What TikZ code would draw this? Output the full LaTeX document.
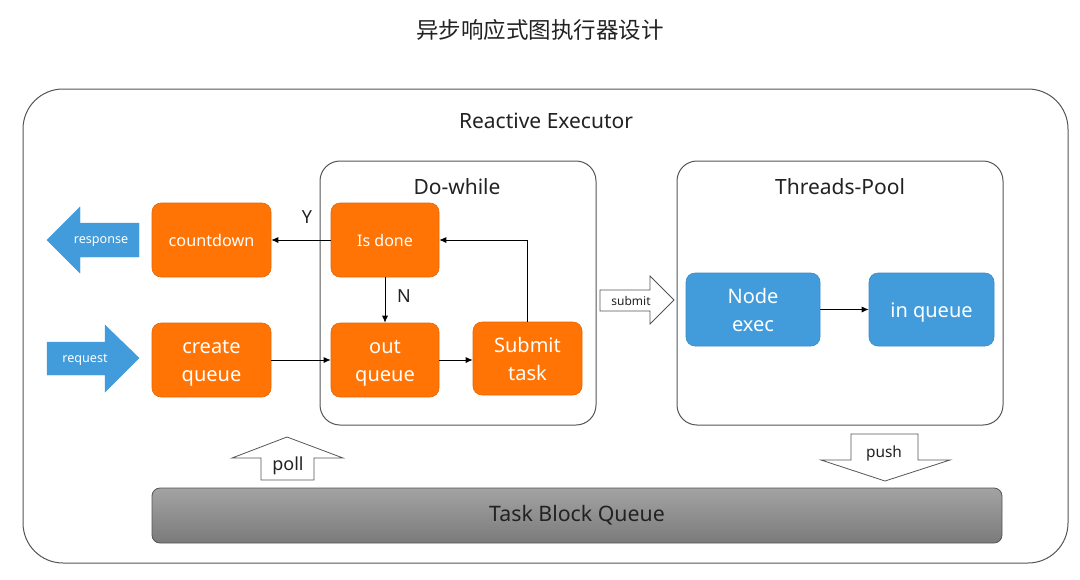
\documentclass[tikz,border=0pt]{standalone}
\usepackage{fontspec}
\setmainfont{Noto Sans}
\newfontfamily\cjk{Noto Sans CJK SC}
\usetikzlibrary{arrows.meta}
\definecolor{org}{HTML}{FF7405}
\definecolor{orgb}{HTML}{E56808}
\definecolor{blu}{HTML}{429CDB}
\definecolor{blub}{HTML}{3A8CC6}
\definecolor{frm}{HTML}{555555}
\definecolor{txt}{HTML}{222222}
\newcommand\fsz[2]{\fontsize{#1}{#2}\selectfont}
\begin{document}
\begin{tikzpicture}[x=1pt,y=-1pt,
  obox/.style={draw=orgb, fill=org, rounded corners=9pt, text=white, align=center, inner sep=0pt, line width=0.6pt},
  bbox/.style={draw=blub, fill=blu, rounded corners=9pt, text=white, align=center, inner sep=0pt, line width=0.6pt},
  frame/.style={draw=frm, line width=1pt},
  conn/.style={draw=black, line width=0.8pt, -{Latex[length=7pt,width=6pt]}},
  barrow/.style={fill=blu, draw=blu},
  warrow/.style={fill=white, draw=frm, line width=0.8pt},
  lbl/.style={inner sep=0pt, text=txt},
  big/.style={font=\fsz{20}{28}},
  inlbl/.style={label={[inner sep=0pt, text=white, align=center, font=\fsz{20}{28}, yshift=-3.5pt]center:#1}}
]
\useasboundingbox (0,0) rectangle (1080,579);
\fill[white] (0,0) rectangle (1080,579);

\node[lbl, font=\cjk\fsz{22.5}{26}] (title) at (540,30) {异步响应式图执行器设计};

% outer frame
\draw[frame, rounded corners=40pt] (23,89) rectangle (1068,563);
\node[lbl, font=\fsz{21}{24}] (re) at (546,121) {Reactive Executor};

% sub frames
\draw[frame, rounded corners=20pt] (320,161) rectangle (596,425);
\node[lbl, font=\fsz{21}{24}] (dw) at (457,187) {Do-while};
\draw[frame, rounded corners=20pt] (677,161) rectangle (1003,425);
\node[lbl, font=\fsz{21}{24}] (tp) at (840,187) {Threads-Pool};

% orange boxes
\node[obox, minimum width=119pt, minimum height=74pt, font=\fsz{16.2}{20}] (countdown) at (211.5,240) {countdown};
\node[obox, minimum width=119pt, minimum height=74pt, inlbl={create\\queue}] (create) at (211.5,360) {};
\node[obox, minimum width=108pt, minimum height=74pt, font=\fsz{16}{20}] (isdone) at (385,240) {Is done};
\node[obox, minimum width=108pt, minimum height=74pt, inlbl={out\\queue}] (outq) at (385,360) {};
\node[obox, minimum width=109pt, minimum height=73pt, big] (submit) at (527.5,358.5) {Submit\\task};

% blue boxes
\node[bbox, minimum width=134pt, minimum height=73pt, big] (nodeexec) at (753,309.5) {Node\\exec};
\node[bbox, minimum width=125pt, minimum height=73pt, inlbl={in queue}] (inq) at (931.5,309.5) {};

% connectors
\draw[conn] (isdone.west) -- (countdown.east);
\node[lbl, font=\fsz{18}{20}] (Y) at (307,217) {Y};
\draw[conn] (isdone.south) -- (outq.north);
\node[lbl, font=\fsz{18}{20}] (N) at (404,296) {N};
\draw[conn] (create.east) -- (outq.west);
\draw[conn] (outq.east) -- (outq.east -| submit.west);
\draw[conn] (submit.north) |- (isdone.east);
\draw[conn] (nodeexec.east) -- (inq.west);

% block arrows
\draw[barrow] (47,240) -- (80,207) -- (80,223) -- (139,223) -- (139,257) -- (80,257) -- (80,273) -- cycle;
\node[lbl, text=white, font=\fsz{12.6}{14}] (resp) at (101,242) {response};
\draw[barrow] (139,358) -- (105,325) -- (105,342) -- (47,342) -- (47,375) -- (105,375) -- (105,392) -- cycle;
\node[lbl, text=white, font=\fsz{12.6}{14}] (req) at (85,360) {request};
\draw[warrow] (674,300) -- (650,276) -- (650,290) -- (600,290) -- (600,311) -- (650,311) -- (650,324) -- cycle;
\node[lbl, font=\fsz{12}{14}] (sub) at (631,300.5) {submit};
\draw[warrow] (287,437) -- (343,458) -- (314,458) -- (314,480) -- (261,480) -- (261,458) -- (232,458) -- cycle;
\node[lbl, font=\fsz{18}{20}] (poll) at (288,466) {poll};
\draw[warrow] (885,481) -- (950,460) -- (918,460) -- (918,434) -- (851,434) -- (851,460) -- (821,460) -- cycle;
\node[lbl, font=\fsz{15.4}{18}] (push) at (884,453) {push};

% task block queue
\node[draw=frm, line width=0.8pt, rounded corners=8pt, bottom color={black!52}, top color={black!36}, minimum width=850pt, minimum height=55pt, inner sep=0pt, text=txt, font=\fsz{21.3}{24}] (tbq) at (577,515.5) {Task Block Queue};
\end{tikzpicture}
\end{document}
